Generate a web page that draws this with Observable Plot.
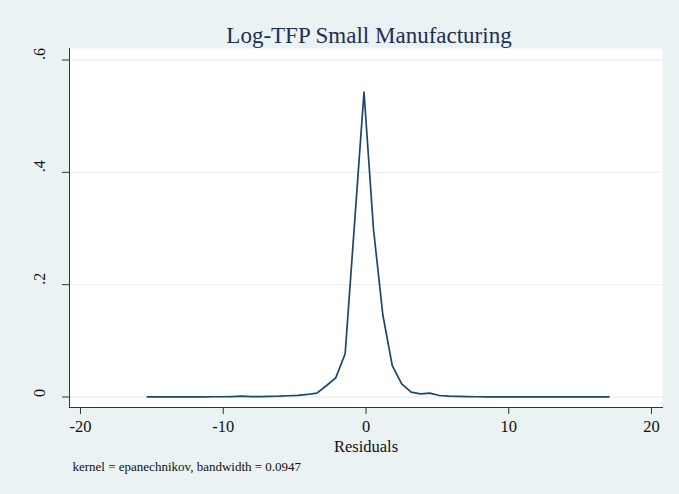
<!DOCTYPE html>
<html>
<head>
<meta charset="utf-8">
<script src="https://cdn.jsdelivr.net/npm/d3@7"></script>
<script src="https://cdn.jsdelivr.net/npm/@observablehq/plot@0.6"></script>
<style>
  html, body { margin: 0; padding: 0; background: #eaf2f3; }
</style>
</head>
<body>
<div id="chart"></div>
<script>
const residuals = [-15.32, -14.66, -14.00, -13.34, -12.68, -12.02, -11.36, -10.70, -10.04, -9.38,
  -8.72, -8.06, -7.40, -6.74, -6.08, -5.42, -4.76, -4.10, -3.44, -2.78,
  -2.12, -1.46, -0.80, -0.14, 0.52, 1.18, 1.84, 2.50, 3.16, 3.82,
  4.48, 5.14, 5.80, 6.46, 7.12, 7.78, 8.44, 9.10, 9.76, 10.42,
  11.08, 11.74, 12.40, 13.06, 13.72, 14.38, 15.04, 15.70, 16.36, 17.02];
const density = [0.0003, 0.0003, 0.0003, 0.0003, 0.0003, 0.0003, 0.0003, 0.0004, 0.0004, 0.0008,
  0.0015, 0.0006, 0.0006, 0.0012, 0.0015, 0.0022, 0.0030, 0.0045, 0.0068, 0.0200,
  0.0340, 0.0770, 0.3100, 0.5430, 0.3000, 0.1460, 0.0560, 0.0235, 0.0086, 0.0057,
  0.0068, 0.0027, 0.0015, 0.0012, 0.0008, 0.0004, 0.0003, 0.0003, 0.0003, 0.0003,
  0.0003, 0.0003, 0.0003, 0.0003, 0.0003, 0.0003, 0.0003, 0.0003, 0.0003, 0.0003];
const yTicks = [0, 0.2, 0.4, 0.6];
const yTickLabels = ["0", ".2", ".4", ".6"];
const xTicks = [-20, -10, 0, 10, 20];
const xTickLabels = ["-20", "-10", "0", "10", "20"];
const titleText = "Log-TFP Small Manufacturing";
const xLabel = "Residuals";
const noteText = "kernel = epanechnikov, bandwidth = 0.0947";

const data = residuals.map((x, i) => ({x, y: density[i]}));
const serif = "'Liberation Serif', 'Times New Roman', Times, serif";

const chart = Plot.plot({
  width: 679,
  height: 494,
  marginLeft: 69,
  marginRight: 17,
  marginTop: 48,
  marginBottom: 87,
  style: {background: "#eaf2f3", fontFamily: serif, color: "#111"},
  x: {domain: [-20.77, 20.77]},
  y: {domain: [-0.0187, 0.6205]},
  marks: [
    Plot.frame({fill: "white", stroke: null}),
    Plot.ruleY(yTicks, {stroke: "#eaf2f3", strokeWidth: 1.3}),
    Plot.line(data, {x: "x", y: "y", stroke: "#1a476f", strokeWidth: 1.7}),
    Plot.axisY(yTicks, {tickSize: 7, tickFormat: () => "", label: null, stroke: "#333"}),
    Plot.text(yTicks, {y: d => d, text: (d, i) => yTickLabels[i], frameAnchor: "left", dx: -30, rotate: -90, fontSize: 16, fill: "#111"}),
    Plot.axisX(xTicks, {tickSize: 7, tickPadding: 6, fontSize: 16.5, label: null, stroke: "#333",
      tickFormat: d => xTickLabels[xTicks.indexOf(d)]}),
    Plot.frame({anchor: "left", stroke: "#333"}),
    Plot.frame({anchor: "bottom", stroke: "#333"}),
    Plot.text([titleText], {frameAnchor: "top", lineAnchor: "middle", dx: 3, dy: -13, fontSize: 23, fill: "#1f2d52"}),
    Plot.text([xLabel], {frameAnchor: "bottom", lineAnchor: "middle", dy: 39, fontSize: 16.5, fill: "#111"}),
    Plot.text([noteText], {frameAnchor: "bottom-left", lineAnchor: "middle", textAnchor: "start", dx: 3, dy: 59, fontSize: 13, fill: "#111"})
  ]
});
document.getElementById("chart").appendChild(chart);
</script>
</body>
</html>
